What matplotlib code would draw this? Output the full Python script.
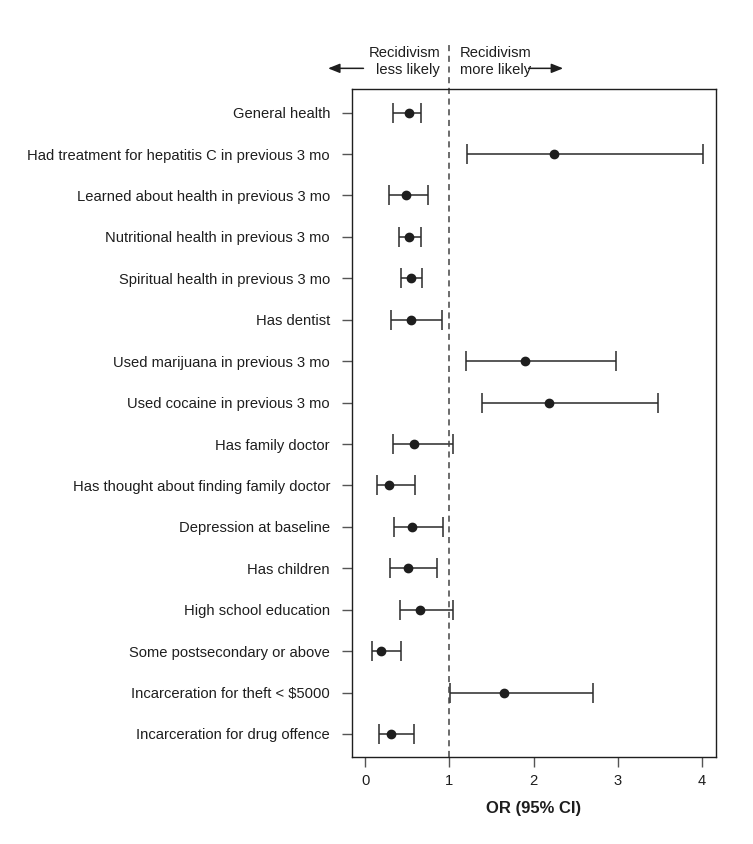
import matplotlib
matplotlib.use("Agg")
import matplotlib.pyplot as plt

plt.rcParams['font.family'] = ['Liberation Sans', 'DejaVu Sans']

labels = [
    "General health",
    "Had treatment for hepatitis C in previous 3 mo",
    "Learned about health in previous 3 mo",
    "Nutritional health in previous 3 mo",
    "Spiritual health in previous 3 mo",
    "Has dentist",
    "Used marijuana in previous 3 mo",
    "Used cocaine in previous 3 mo",
    "Has family doctor",
    "Has thought about finding family doctor",
    "Depression at baseline",
    "Has children",
    "High school education",
    "Some postsecondary or above",
    "Incarceration for theft < $5000",
    "Incarceration for drug offence",
]
or_est = [0.515, 2.24, 0.483, 0.526, 0.546, 0.546, 1.90, 2.185, 0.58, 0.28,
          0.558, 0.51, 0.653, 0.19, 1.647, 0.309]
ci_low = [0.336, 1.21, 0.289, 0.40, 0.431, 0.309, 1.203, 1.386, 0.325, 0.139,
          0.341, 0.297, 0.408, 0.08, 1.01, 0.163]
ci_high = [0.665, 4.01, 0.752, 0.665, 0.677, 0.918, 2.977, 3.476, 1.04, 0.59,
           0.93, 0.847, 1.04, 0.43, 2.70, 0.578]
xticks = [0, 1, 2, 3, 4]

dark = "#1e1e1e"
fig = plt.figure(figsize=(7.53, 8.44), dpi=100)
ax = fig.add_axes([0.467, 0.1034, 0.4834, 0.7911])

ys = list(range(len(labels)))
xerr = [[e - l for e, l in zip(or_est, ci_low)], [h - e for e, h in zip(or_est, ci_high)]]
ax.errorbar(or_est, ys, xerr=xerr, fmt='o', color=dark, ecolor="#2a2a2a",
            markersize=6, elinewidth=1.1, capsize=7.2, capthick=1.1)

ax.set_xlim(-0.16, 4.16)
ax.set_ylim(15.55, -0.57)
ax.set_yticks(ys)
ax.set_yticklabels(labels, fontsize=10.6, color=dark)
ax.set_xticks(xticks)
ax.set_xticklabels([str(t) for t in xticks], fontsize=10.6, color=dark)
ax.tick_params(axis='both', length=7.5, width=1.0, color="#555555")
ax.tick_params(axis='y', pad=8)
ax.tick_params(axis='x', pad=5)
ax.set_xlabel("OR (95% CI)", fontsize=12, fontweight='bold', color=dark, labelpad=9)
for s in ax.spines.values():
    s.set_linewidth(1.0)
    s.set_color(dark)

# reference line at OR = 1, extending above the plot area
ax.plot([1, 1], [0, 1.066], transform=ax.get_xaxis_transform(), ls=(0, (4, 3)),
        color="#444444", lw=1.1, clip_on=False)

# header annotations
ax.text(0.89, 1.0415, "Recidivism\nless likely", transform=ax.get_xaxis_transform(),
        ha='right', va='center', fontsize=10.6, color=dark, linespacing=1.25,
        multialignment='right')
ax.text(1.12, 1.0415, "Recidivism\nmore likely", transform=ax.get_xaxis_transform(),
        ha='left', va='center', fontsize=10.6, color=dark, linespacing=1.25,
        multialignment='left')
arrow_style = "-|>,head_length=0.7,head_width=0.28"
ax.annotate("", xy=(-0.44, 1.031), xytext=(-0.02, 1.031),
            xycoords=ax.get_xaxis_transform(), textcoords=ax.get_xaxis_transform(),
            arrowprops=dict(arrowstyle=arrow_style, color=dark, lw=1.1,
                            shrinkA=0, shrinkB=0), annotation_clip=False)
ax.annotate("", xy=(2.35, 1.031), xytext=(1.94, 1.031),
            xycoords=ax.get_xaxis_transform(), textcoords=ax.get_xaxis_transform(),
            arrowprops=dict(arrowstyle=arrow_style, color=dark, lw=1.1,
                            shrinkA=0, shrinkB=0), annotation_clip=False)

fig.savefig("out.png", dpi=100)
